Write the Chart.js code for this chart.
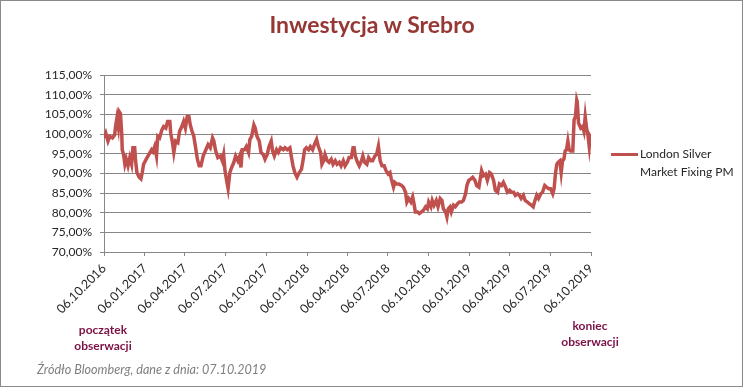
<!DOCTYPE html>
<html>
<head>
<meta charset="utf-8">
<script src="https://cdn.jsdelivr.net/npm/chart.js@4.4.1/dist/chart.umd.min.js"></script>
<style>
  html, body { margin: 0; padding: 0; background: #fff; }
  #frame { position: absolute; left: 0; top: 0; width: 743px; height: 387px; box-sizing: border-box; border: 1px solid #8a8a8a; background: #fff; }
  #wrap { position: absolute; left: 0; top: 0; width: 744px; height: 388px; }
  .t { position: absolute; font-family: Lato, "Noto Sans", sans-serif; white-space: nowrap; }
  #title { left: 0; width: 744px; top: 10px; text-align: center; font-size: 23px; font-weight: bold; color: #953735; }
  #legend { left: 611px; top: 145px; font-size: 12px; color: #262626; line-height: 18px; }
  #legend .sw { position: absolute; left: 0; top: 8px; width: 27px; height: 3px; background: #C0504D; }
  #legend .tx { position: absolute; left: 29px; top: 0; }
  .note { font-size: 12px; font-weight: bold; color: #7B1045; text-align: center; line-height: 16px; }
  #src { left: 37px; top: 362px; font-size: 12.6px; font-style: italic; color: #7f7f7f; }
</style>
</head>
<body>
<div id="frame"></div>
<div id="wrap"><canvas id="c"></canvas></div>
<div class="t" id="title">Inwestycja w Srebro</div>
<div class="t" id="legend"><div class="sw"></div><div class="tx">London Silver<br>Market Fixing PM</div></div>
<div class="t note" style="left:63px; top:322px; width:80px;">początek<br>obserwacji</div>
<div class="t note" style="left:550px; top:318px; width:80px;">koniec<br>obserwacji</div>
<div class="t" id="src">Źródło Bloomberg, dane z dnia: 07.10.2019</div>
<script>
// days since 06.10.2016
const days = [0,4,9,13,19,24,26,29,32,34,37,40,41,44,47,50,54,58,62,65,69,71,74,79,83,86,89,95,101,107,110,114,118,121,125,130,134,139,143,148,150,154,157,161,166,170,175,179,183,187,191,194,198,202,206,210,214,218,223,229,234,239,244,247,251,256,262,266,269,272,275,279,283,287,292,296,301,305,308,311,316,320,325,328,332,337,340,344,349,353,358,362,367,371,376,379,383,388,392,397,403,407,412,418,421,425,429,434,439,444,448,451,455,460,464,469,473,478,482,487,490,494,497,502,506,511,515,520,524,529,533,538,542,547,551,556,560,562,565,570,574,579,582,586,591,595,600,604,609,613,617,621,625,630,634,639,643,646,651,654,658,663,669,673,678,681,685,690,694,697,700,705,709,714,718,723,727,730,735,738,742,747,751,756,760,763,768,771,774,778,781,786,790,795,799,804,808,813,816,820,825,829,834,838,843,846,849,853,858,862,867,871,876,880,885,889,894,898,903,907,912,916,921,925,930,934,938,943,947,952,956,961,965,968,973,977,982,986,991,995,1000,1004,1009,1012,1015,1018,1021,1025,1028,1031,1034,1037,1040,1043,1046,1049,1054,1057,1060,1063,1064,1067,1072,1076,1079,1082,1085,1088,1091,1093,1095];
const silver = [99,100.2,98.2,99.4,99,99.8,101.9,104,101.9,105.7,105.2,99.8,96,94.8,92.3,93.6,91.9,94,92.3,96.5,96.5,93.2,90.2,89,88.6,90.2,92.3,93.6,94.8,96,95.5,96.8,94.4,99.4,99,101,101.9,101.5,103.2,103.2,100.2,97.8,95.3,98.2,97.8,100.7,101.9,103.2,101.5,104.4,104.4,102.3,100.7,99.4,96.5,93.6,91.9,91.9,94.4,96,97.3,96.5,99,98.2,95.7,94,94.4,93.2,94.8,90.7,88.6,86.1,90.2,91.5,92.8,94.4,93.2,94.4,91.5,96,96,96.8,95.3,98.6,99.4,102.3,101.5,99.4,98.2,95.3,94.8,93.6,94.8,96.8,98.2,95.7,94.4,96,95.3,96.5,96,96.5,96,96.5,94.4,91.9,90.2,89,90.2,91,93.6,96,96.5,96,96.8,96,97.3,98.6,96.8,95.3,92.3,93.2,94.8,93.2,92.8,93.6,92.3,93.2,92.3,92.8,91.9,93.2,91.9,92.8,94,94,96.5,96.9,94.4,92.8,91.9,93.2,94.4,92.8,92.3,94,93.2,93.2,94.4,94.8,96.9,93.2,91.9,91.9,90.7,89.8,90.2,88.6,86.5,87.7,87.3,87.3,86.9,86.5,85.2,82.7,83.6,82.7,84,82.3,80.2,80.2,79.8,80.2,80.6,81.5,81,82.7,81.5,83.1,81.9,83.1,81.5,83.6,83.1,81,80.2,78.9,81,81.5,80.2,81.9,81.5,82.3,82.7,82.7,83.1,84.8,86.9,88.2,88.6,89,88.2,86.9,86.5,88.6,90.7,89.4,89.8,88.2,90.2,89.8,88.2,85.7,85.2,87.3,86.9,87.7,86.5,85.2,85.7,85.2,85.2,84.4,84.8,84.4,83.6,84.4,83.1,82.7,82.3,81.9,81.5,82.7,84.4,83.6,84.8,85.2,86.9,86.5,86.1,86.1,84.8,86.1,89.8,92.3,92.8,93.2,90.2,93.2,93.6,95.7,96,98.2,96,95.7,95.7,103.6,104.4,108.6,108.2,102.8,101.5,101.9,100.7,104.4,101.5,99.8,96.9,99.4,99];
const xTickDays = [0,92,182,273,365,457,547,638,730,822,912,1003,1095];
const xTickLabels = ['06.10.2016','06.01.2017','06.04.2017','06.07.2017','06.10.2017','06.01.2018','06.04.2018','06.07.2018','06.10.2018','06.01.2019','06.04.2019','06.07.2019','06.10.2019'];
const yTickValues = [70,75,80,85,90,95,100,105,110,115];
const yTickLabels = ['70,00%','75,00%','80,00%','85,00%','90,00%','95,00%','100,00%','105,00%','110,00%','115,00%'];

const gridColor = '#878787';
const labelFont = { family: 'Lato, "Noto Sans", sans-serif', size: 12 };
const xLabelFont = { family: 'Lato, "Noto Sans", sans-serif', size: 12.5 };

new Chart(document.getElementById('c'), {
  type: 'line',
  data: {
    datasets: [{
      label: 'London Silver Market Fixing PM',
      data: days.map((d, i) => ({ x: d, y: silver[i] })),
      borderColor: '#C0504D',
      borderWidth: 3.5,
      pointRadius: 0,
      tension: 0,
      fill: false
    }]
  },
  options: {
    responsive: true,
    maintainAspectRatio: false,
    animation: false,
    layout: { padding: { top: 75, right: 153, left: 0, bottom: 0 } },
    plugins: { legend: { display: false }, title: { display: false }, tooltip: { enabled: false } },
    scales: {
      x: {
        type: 'linear',
        min: 0, max: 1095,
        afterBuildTicks: (s) => { s.ticks = xTickDays.map(v => ({ value: v })); },
        afterFit: (s) => { s.height = 136; },
        ticks: {
          autoSkip: false, maxRotation: 45, minRotation: 45, padding: 5,
          color: '#262626', font: xLabelFont,
          callback: (v) => { const i = xTickDays.indexOf(v); return i >= 0 ? xTickLabels[i] : ''; }
        },
        grid: { display: true, drawOnChartArea: false, drawTicks: true, tickLength: 4, color: gridColor },
        border: { color: gridColor, width: 1 }
      },
      y: {
        min: 70, max: 115,
        afterBuildTicks: (s) => { s.ticks = yTickValues.map(v => ({ value: v })); },
        afterFit: (s) => { s.width = 104; },
        ticks: {
          padding: 8, color: '#262626', font: labelFont,
          callback: (v) => { const i = yTickValues.indexOf(v); return i >= 0 ? yTickLabels[i] : ''; }
        },
        grid: { color: gridColor, tickLength: 4, lineWidth: 1 },
        border: { color: gridColor, width: 1 }
      }
    }
  }
});
</script>
</body>
</html>
